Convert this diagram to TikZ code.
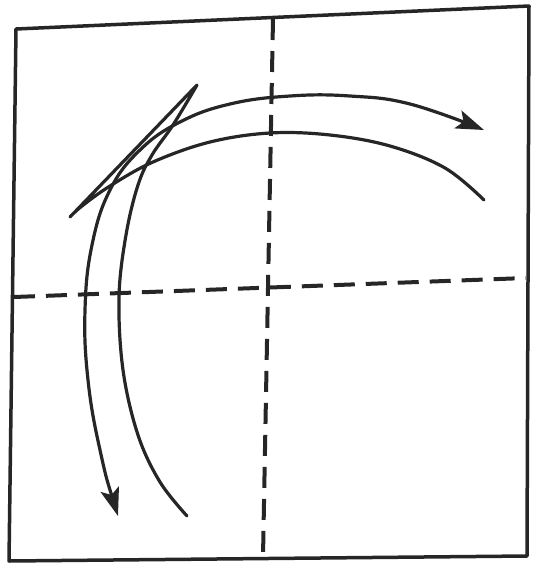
\documentclass[tikz,border=0pt]{standalone}
\usetikzlibrary{arrows.meta}

\begin{document}
\begin{tikzpicture}[
  x=1pt, y=-1pt, line join=round,
  >={Stealth[length=28pt, width=19pt, inset=6pt]},
  paper/.style = {draw=black!85, line width=3.5pt},
  fold/.style  = {draw=black!85, line width=4pt, dash pattern=on 21pt off 11pt},
  move/.style  = {draw=black!85, line width=3.2pt, line cap=round}
]
\useasboundingbox (0,0) rectangle (533,563);

% square sheet
\coordinate (tl) at (16,29);
\coordinate (tr) at (529,6);
\coordinate (br) at (527,556);
\coordinate (bl) at (9,561);
\draw[paper] (tl) -- (tr) -- (br) -- (bl) -- cycle;

% fold lines
\coordinate (ftop)   at (273,19);
\coordinate (fbot)   at (263,557);
\coordinate (fleft)  at (14,297);
\coordinate (fright) at (526,278);
\draw[fold] (ftop) -- (fbot);
\draw[fold] (fleft) -- (fright);

% arrow tips and ends
\coordinate (upend)  at (484,130);
\coordinate (lowend) at (118,516);
\coordinate (arcend) at (484,200);
\coordinate (kink)   at (70,217);
\coordinate (peak)   at (197,85);
\coordinate (tail)   at (187,516);

% outer arc, two heads
\draw[move, <->] plot[smooth, tension=0.7] coordinates {
  (lowend) (100,450) (88,380) (85,310) (92,245) (110,190)
  (140,150) (180,122) (230,104) (290,96) (350,96) (410,104) (upend)};

% inner arc with the zigzag
\draw[move] plot[smooth, tension=0.6] coordinates {
  (arcend) (445,168) (390,146) (330,135) (270,133) (210,142)
  (153,162) (110,186) (82,206) (kink)}
  -- plot[smooth, tension=0.6] coordinates {
  (peak) (173,125) (152,155) (138,185) (126,235) (119,297)
  (123,370) (138,435) (160,482) (tail)};

\end{tikzpicture}
\end{document}
